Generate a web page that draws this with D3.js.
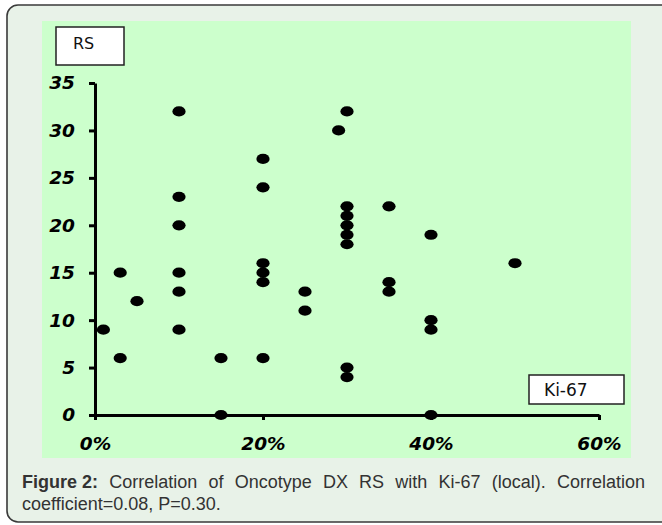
<!DOCTYPE html>
<html>
<head>
<meta charset="utf-8">
<script src="https://cdn.jsdelivr.net/npm/d3@7"></script>
<style>
  html, body { margin: 0; padding: 0; background: #ffffff; }
  svg { display: block; }
</style>
</head>
<body>
<svg id="chart" width="662" height="525"></svg>
<script>
// ---- data (Ki-67 as fraction, Oncotype DX RS) ----
const ki67 = [0.01, 0.03, 0.03, 0.05,
  0.10, 0.10, 0.10, 0.10, 0.10, 0.10,
  0.15, 0.15,
  0.20, 0.20, 0.20, 0.20, 0.20, 0.20,
  0.25, 0.25,
  0.29,
  0.30, 0.30, 0.30, 0.30, 0.30, 0.30, 0.30, 0.30,
  0.35, 0.35, 0.35,
  0.40, 0.40, 0.40, 0.40,
  0.50];
const rs = [9, 15, 6, 12,
  32, 23, 20, 15, 13, 9,
  6, 0,
  27, 24, 16, 15, 14, 6,
  13, 11,
  30,
  32, 22, 21, 20, 19, 18, 5, 4,
  22, 14, 13,
  19, 10, 9, 0,
  16];
const yTicks = [0, 5, 10, 15, 20, 25, 30, 35];
const xTicks = [0, 0.2, 0.4, 0.6];
const yTitle = "RS";
const xTitle = "Ki-67";
const captionBold = "Figure 2:";
const captionLine1 = "Correlation of Oncotype DX RS with Ki-67 (local). Correlation";
const captionLine2 = "coefficient=0.08, P=0.30.";

const svg = d3.select("#chart");

// outer frame
svg.append("rect")
  .attr("x", 7).attr("y", 5).attr("width", 690).attr("height", 517)
  .attr("rx", 11).attr("ry", 11)
  .attr("fill", "#e8f2e8").attr("stroke", "#3a3a3a").attr("stroke-width", 1.6);

// plot panel
svg.append("rect")
  .attr("x", 42).attr("y", 21).attr("width", 589).attr("height", 437)
  .attr("fill", "#ccffcc");

const x = d3.scaleLinear().domain([0, 0.6]).range([95, 599]);
const y = d3.scaleLinear().domain([0, 35]).range([415, 83]);

const tickFont = "'DejaVu Sans', Verdana, sans-serif";

// y axis
const gy = svg.append("g").attr("transform", `translate(${x(0)},0)`)
  .call(d3.axisLeft(y).tickValues(yTicks).tickSize(6).tickSizeOuter(0).tickPadding(14)
    .tickFormat(d3.format("d")));
// x axis
const gx = svg.append("g").attr("transform", `translate(0,${y(0)})`)
  .call(d3.axisBottom(x).tickValues(xTicks).tickSize(5).tickSizeOuter(0).tickPadding(17)
    .tickFormat(d3.format(".0%")));

[gy, gx].forEach(g => {
  g.select(".domain").attr("stroke", "#000").attr("stroke-width", 3);
  g.selectAll(".tick line").attr("stroke", "#000").attr("stroke-width", 3);
  g.selectAll(".tick text")
    .attr("fill", "#000")
    .style("font-family", tickFont)
    .style("font-weight", "bold")
    .style("font-style", "italic")
    .style("font-size", "18.5px");
});

// points
svg.append("g").selectAll("ellipse")
  .data(ki67.map((k, i) => ({ k, r: rs[i] })))
  .join("ellipse")
  .attr("cx", d => x(d.k))
  .attr("cy", d => y(d.r))
  .attr("rx", 6.6).attr("ry", 5.1)
  .attr("fill", "#000");

// axis title boxes
svg.append("rect").attr("x", 56).attr("y", 27).attr("width", 68).attr("height", 38)
  .attr("fill", "#fff").attr("stroke", "#222").attr("stroke-width", 1.5);
svg.append("text").attr("x", 73).attr("y", 49).text(yTitle)
  .style("font-family", tickFont).style("font-size", "16px").attr("fill", "#111");

svg.append("rect").attr("x", 529).attr("y", 375).attr("width", 95).attr("height", 29)
  .attr("fill", "#fff").attr("stroke", "#222").attr("stroke-width", 1.5);
svg.append("text").attr("x", 544).attr("y", 396).text(xTitle)
  .style("font-family", tickFont).style("font-size", "17px").attr("fill", "#111");

// caption (first line justified)
const capFont = "'Liberation Sans', Arial, sans-serif";
const capLeft = 22, capRight = 645;
const words1 = [{ t: captionBold, b: true }].concat(captionLine1.split(" ").map(t => ({ t, b: false })));
const cap = svg.append("g")
  .style("font-family", capFont).style("font-size", "18px").attr("fill", "#333");
const nodes = words1.map(w => cap.append("text").attr("y", 488).text(w.t)
  .style("font-weight", w.b ? "bold" : "normal"));
const widths = nodes.map(n => n.node().getComputedTextLength());
const gap = (capRight - capLeft - d3.sum(widths)) / (nodes.length - 1);
let cx = capLeft;
nodes.forEach((n, i) => { n.attr("x", cx); cx += widths[i] + gap; });
cap.append("text").attr("x", capLeft).attr("y", 509.5).text(captionLine2);
</script>
</body>
</html>
